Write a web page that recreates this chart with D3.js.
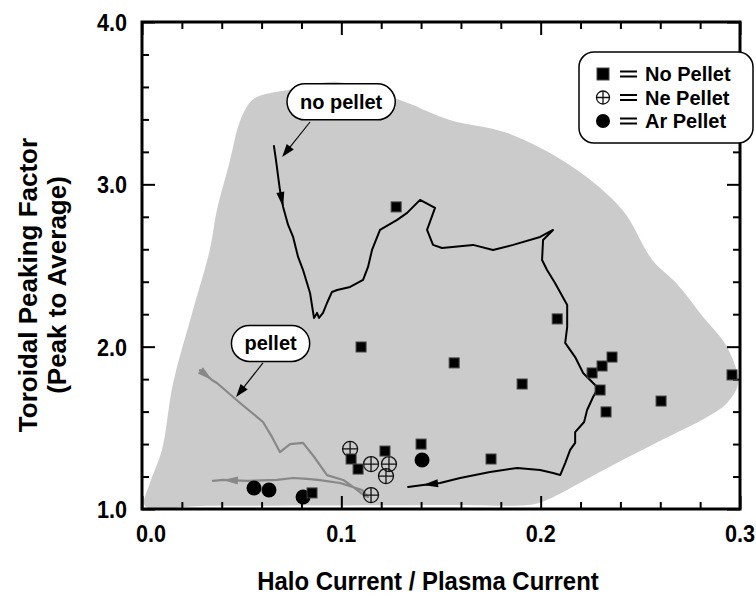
<!DOCTYPE html>
<html><head><meta charset="utf-8">
<script src="https://cdn.jsdelivr.net/npm/d3@7"></script>
<style>
html,body{margin:0;padding:0;background:#fff;}
svg{display:block;}
text{font-family:"Liberation Sans",Arial,Helvetica,sans-serif;font-weight:bold;fill:#000;}
</style>
</head><body>
<svg id="chart" width="756" height="597"></svg>
<script>
// Toroidal peaking factor versus halo current fraction, by pellet type

const xTickValues = [0, 0.1, 0.2, 0.3];
const xTickLabels = ["0.0", "0.1", "0.2", "0.3"];
const yTickValues = [1, 2, 3, 4];
const yTickLabels = ["1.0", "2.0", "3.0", "4.0"];

// Shots without pellet injection
const noPelletX = [0.1275, 0.1099, 0.1049, 0.1084, 0.1219, 0.1400, 0.0853, 0.2083, 0.1566, 0.1907,
                   0.2258, 0.2308, 0.2358, 0.2298, 0.2328, 0.2604, 0.2960, 0.1751];
const noPelletY = [2.861, 1.998, 1.308, 1.246, 1.357, 1.400, 1.099, 2.171, 1.900, 1.770,
                   1.838, 1.881, 1.936, 1.733, 1.598, 1.665, 1.826, 1.308];

// Neon pellet shots
const nePelletX = [0.1044, 0.1149, 0.1239, 0.1224, 0.1149];
const nePelletY = [1.370, 1.277, 1.277, 1.203, 1.086];

// Argon pellet shots
const arPelletX = [0.0562, 0.0637, 0.0808, 0.1405];
const arPelletY = [1.129, 1.117, 1.074, 1.302];

// Envelope of the database (shaded region), traced clockwise from the lower left
const envelopeX = [0.0015, 0.0040, 0.0100, 0.0156, 0.0250, 0.0340, 0.0376, 0.0442, 0.0482, 0.0517,
                   0.0567, 0.0793, 0.0978, 0.1280, 0.1545, 0.1830, 0.2160, 0.2410, 0.2560, 0.2680,
                   0.2815, 0.2935, 0.2990, 0.2935, 0.2835, 0.2600, 0.2330, 0.2030, 0.1960, 0.1500,
                   0.0900, 0.0300];
const envelopeY = [1.018, 1.160, 1.364, 1.776, 2.200, 2.596, 2.842, 3.150, 3.354, 3.458,
                   3.532, 3.594, 3.631, 3.526, 3.397, 3.317, 3.107, 2.842, 2.534, 2.392,
                   2.183, 1.998, 1.776, 1.653, 1.567, 1.420, 1.250, 1.055, 1.028, 1.024,
                   1.021, 1.019];

// Time history of a discharge without pellet
const trajNoPelletX = [0.0662, 0.0672, 0.0692, 0.0708, 0.0733, 0.0758, 0.0783, 0.0808, 0.0843, 0.0858,
                       0.0863, 0.0878, 0.0888, 0.0908, 0.0928, 0.0953, 0.0979, 0.1044, 0.1109, 0.1134,
                       0.1154, 0.1194, 0.1280, 0.1330, 0.1395, 0.1470, 0.1430, 0.1460, 0.1505, 0.1661,
                       0.1761, 0.1862, 0.1997, 0.2062, 0.2012, 0.2007, 0.2032, 0.2072, 0.2133, 0.2133,
                       0.2123, 0.2173, 0.2213, 0.2273, 0.2288, 0.2263, 0.2233, 0.2218, 0.2173, 0.2173,
                       0.2148, 0.2123, 0.2098, 0.2062, 0.1997, 0.1882, 0.1746, 0.1596, 0.1495, 0.1410,
                       0.1335];
const trajNoPelletY = [3.236, 3.150, 2.965, 2.861, 2.750, 2.676, 2.553, 2.472, 2.331, 2.214,
                       2.177, 2.208, 2.177, 2.208, 2.269, 2.337, 2.349, 2.368, 2.411, 2.491,
                       2.596, 2.719, 2.781, 2.824, 2.904, 2.855, 2.719, 2.627, 2.608, 2.627,
                       2.596, 2.627, 2.676, 2.719, 2.657, 2.534, 2.472, 2.392, 2.257, 2.121,
                       2.023, 1.936, 1.838, 1.764, 1.745, 1.690, 1.610, 1.536, 1.474, 1.407,
                       1.364, 1.283, 1.209, 1.222, 1.240, 1.253, 1.228, 1.191, 1.160, 1.148,
                       1.136];
const trajNoPelletArrows = [3, 59];

// Time history of a discharge with pellet injection
const trajPelletX = [0.0291, 0.0351, 0.0376, 0.0492, 0.0607, 0.0652, 0.0692, 0.0743, 0.0808, 0.0868,
                     0.0928, 0.1009, 0.1059, 0.1119, 0.1134, 0.1104, 0.0994, 0.0883, 0.0828, 0.0758,
                     0.0677, 0.0527, 0.0406, 0.0356];
const trajPelletY = [1.856, 1.795, 1.776, 1.653, 1.536, 1.444, 1.351, 1.400, 1.407, 1.314,
                     1.209, 1.179, 1.136, 1.080, 1.074, 1.117, 1.160, 1.179, 1.185, 1.191,
                     1.179, 1.173, 1.179, 1.173];
const trajPelletArrows = [1, 22];

// Callout labels: text, centre of label, tail and tip of pointer
const calloutText = ["no pellet", "pellet"];
const calloutCx = [0.0999, 0.0645];
const calloutCy = [3.508, 2.020];
const calloutTailX = [0.0843, 0.0607];
const calloutTailY = [3.384, 1.900];
const calloutTipX = [0.0703, 0.0472];
const calloutTipY = [3.169, 1.690];

const legendLabels = ["No Pellet", "Ne Pellet", "Ar Pellet"];

const svg = d3.select("#chart");
const x = d3.scaleLinear().domain([0, 0.3]).range([142, 740]);
const y = d3.scaleLinear().domain([1, 4]).range([509, 22]);

const zip = (xs, ys) => xs.map((v, i) => [v, ys[i]]);

// shaded envelope
svg.append("path")
  .attr("d", d3.line().x(d => x(d[0])).y(d => y(d[1])).curve(d3.curveCatmullRomClosed.alpha(0.5))(zip(envelopeX, envelopeY)))
  .attr("fill", "#cbcbcb")
  .attr("stroke", "none");

// frame and inward ticks
const gAxes = svg.append("g");
const xMinor = d3.range(0, 0.3001, 0.02);
const yMinor = d3.range(1, 4.001, 0.2);
const isMajorX = v => Math.abs(v * 10 - Math.round(v * 10)) < 1e-6;
const isMajorY = v => Math.abs(v - Math.round(v)) < 1e-6;

gAxes.append("g").attr("transform", `translate(0,${y(1)})`)
  .call(d3.axisBottom(x).tickValues(xMinor).tickSize(-7).tickFormat(""))
  .call(g => g.selectAll(".tick line").filter(d => isMajorX(d)).attr("y2", -13));
gAxes.append("g").attr("transform", `translate(0,${y(4)})`)
  .call(d3.axisTop(x).tickValues(xMinor).tickSize(-7).tickFormat(""))
  .call(g => g.selectAll(".tick line").filter(d => isMajorX(d)).attr("y2", 13));
gAxes.append("g").attr("transform", `translate(${x(0)},0)`)
  .call(d3.axisLeft(y).tickValues(yMinor).tickSize(-7).tickFormat(""))
  .call(g => g.selectAll(".tick line").filter(d => isMajorY(d)).attr("x2", 13));
gAxes.append("g").attr("transform", `translate(${x(0.3)},0)`)
  .call(d3.axisRight(y).tickValues(yMinor).tickSize(-7).tickFormat(""))
  .call(g => g.selectAll(".tick line").filter(d => isMajorY(d)).attr("x2", -13));
gAxes.selectAll(".domain").remove();
gAxes.selectAll(".tick line").attr("stroke", "#000").attr("stroke-width", 2);

svg.append("rect")
  .attr("x", x(0)).attr("y", y(4))
  .attr("width", x(0.3) - x(0)).attr("height", y(1) - y(4))
  .attr("fill", "none").attr("stroke", "#000").attr("stroke-width", 3);

// tick labels
svg.append("g").selectAll("text").data(xTickValues).join("text")
  .attr("transform", (d, i) => `translate(${x(d) + (i === 0 ? 9 : 0)},542) scale(0.9,1)`)
  .attr("text-anchor", "middle")
  .style("font-size", "24px")
  .text((d, i) => xTickLabels[i]);
svg.append("g").selectAll("text").data(yTickValues).join("text")
  .attr("transform", d => `translate(127,${y(d) + 9}) scale(0.9,1)`)
  .attr("text-anchor", "end")
  .style("font-size", "24px")
  .text((d, i) => yTickLabels[i]);

// axis titles
svg.append("text")
  .attr("transform", "translate(428,590) scale(0.92,1)")
  .attr("text-anchor", "middle")
  .style("font-size", "26px")
  .text("Halo Current / Plasma Current");
svg.append("text")
  .attr("transform", "translate(37,285) rotate(-90)")
  .attr("text-anchor", "middle")
  .style("font-size", "26px")
  .text("Toroidal Peaking Factor");
svg.append("text")
  .attr("transform", "translate(66,285) rotate(-90)")
  .attr("text-anchor", "middle")
  .style("font-size", "26px")
  .text("(Peak to Average)");

// arrowhead with its tip at `tip`, pointing away from `from`
function arrowHead(g, tip, from, len, wid, color) {
  const a = Math.atan2(tip[1] - from[1], tip[0] - from[0]);
  const bx = tip[0] - len * Math.cos(a), by = tip[1] - len * Math.sin(a);
  const nx = -Math.sin(a) * wid / 2, ny = Math.cos(a) * wid / 2;
  g.append("path")
    .attr("d", `M${tip[0]},${tip[1]}L${bx + nx},${by + ny}L${bx - nx},${by - ny}Z`)
    .attr("fill", color).attr("stroke", "none");
}

const line = d3.line().x(d => x(d[0])).y(d => y(d[1])).curve(d3.curveLinear);

function trajectory(xs, ys, arrows, color, width) {
  const pts = zip(xs, ys);
  const g = svg.append("g");
  g.append("path").attr("d", line(pts))
    .attr("fill", "none").attr("stroke", color).attr("stroke-width", width)
    .attr("stroke-linejoin", "round").attr("stroke-linecap", "round");
  arrows.forEach(i => {
    arrowHead(g, [x(pts[i][0]), y(pts[i][1])], [x(pts[i - 1][0]), y(pts[i - 1][1])], 15, 8, color);
  });
}
trajectory(trajPelletX, trajPelletY, trajPelletArrows, "#888888", 2.2);
trajectory(trajNoPelletX, trajNoPelletY, trajNoPelletArrows, "#000000", 2);

// markers
function neMarker(g, cx, cy, r) {
  g.append("circle").attr("cx", cx).attr("cy", cy).attr("r", r)
    .attr("fill", "none").attr("stroke", "#111").attr("stroke-width", 1.3);
  g.append("path").attr("d", `M${cx - r},${cy}H${cx + r}M${cx},${cy - r}V${cy + r}`)
    .attr("stroke", "#111").attr("stroke-width", 1.3);
}
function arMarker(g, cx, cy, r) {
  g.append("circle").attr("cx", cx).attr("cy", cy).attr("r", r).attr("fill", "#000");
}
function sqMarker(g, cx, cy, s) {
  g.append("rect").attr("x", cx - s / 2).attr("y", cy - s / 2).attr("width", s).attr("height", s)
    .attr("fill", "#000").attr("stroke", "#444").attr("stroke-width", 1);
}

const gm = svg.append("g");
nePelletX.forEach((v, i) => neMarker(gm, x(v), y(nePelletY[i]), 7.5));
arPelletX.forEach((v, i) => arMarker(gm, x(v), y(arPelletY[i]), 7.5));
noPelletX.forEach((v, i) => sqMarker(gm, x(v), y(noPelletY[i]), 10));

// callouts
const gc = svg.append("g");
calloutText.forEach((t, i) => {
  const cx = x(calloutCx[i]), cy = y(calloutCy[i]);
  const txt = gc.append("text").attr("x", cx).attr("y", cy + 7)
    .attr("text-anchor", "middle").style("font-size", "20px").text(t);
  const w = txt.node().getComputedTextLength() + 26, h = 36;
  gc.insert("rect", "text").attr("x", cx - w / 2).attr("y", cy - h / 2)
    .attr("width", w).attr("height", h).attr("rx", h / 2).attr("ry", h / 2)
    .attr("fill", "#fff").attr("stroke", "#000").attr("stroke-width", 1.5);
  const tail = [x(calloutTailX[i]), y(calloutTailY[i])];
  const tip = [x(calloutTipX[i]), y(calloutTipY[i])];
  const a = Math.atan2(tip[1] - tail[1], tip[0] - tail[0]);
  gc.append("line").attr("x1", tail[0]).attr("y1", tail[1])
    .attr("x2", tip[0] - 10 * Math.cos(a)).attr("y2", tip[1] - 10 * Math.sin(a))
    .attr("stroke", "#000").attr("stroke-width", 1.1);
  arrowHead(gc, tip, tail, 13, 9, "#000");
});

// legend
const gl = svg.append("g").attr("transform", "translate(579,52)");
gl.append("rect").attr("width", 174).attr("height", 91).attr("rx", 15).attr("ry", 15)
  .attr("fill", "#fff").attr("stroke", "#000").attr("stroke-width", 1.5);
legendLabels.forEach((t, i) => {
  const cy = 22 + i * 23.5;
  if (i === 0) sqMarker(gl, 24, cy, 12);
  if (i === 1) neMarker(gl, 24, cy, 6.5);
  if (i === 2) arMarker(gl, 24, cy, 7);
  gl.append("path").attr("d", `M41,${cy - 2.5}H58M41,${cy + 2.5}H58`)
    .attr("stroke", "#000").attr("stroke-width", 2.2);
  gl.append("text").attr("x", 66).attr("y", cy + 7).style("font-size", "20px").text(t);
});
</script>
</body></html>
